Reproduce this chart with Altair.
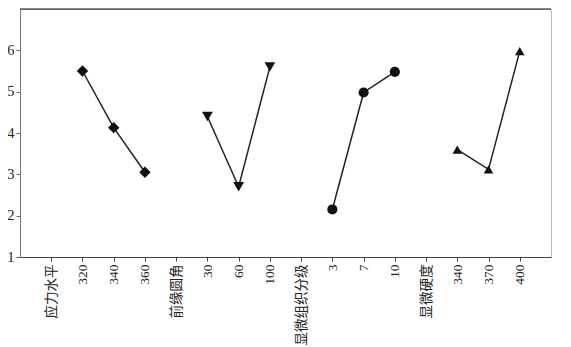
import altair as alt
import pandas as pd

categories = ["应力水平", "320", "340", "360", "前缘圆角", "30", "60", "100",
              "显微组织分级", "3", "7", "10", "显微硬度", "340", "370", "400"]
groups = ["应力水平", "前缘圆角", "显微组织分级", "显微硬度"]
group_positions = [[1, 2, 3], [5, 6, 7], [9, 10, 11], [13, 14, 15]]
stress_values = [5.5, 4.13, 3.05]
fillet_values = [4.4, 2.7, 5.6]
grade_values = [2.15, 4.98, 5.48]
hardness_values = [3.6, 3.12, 5.98]
shapes = ["diamond", "triangle-down", "circle", "triangle-up"]
marker_sizes = [130, 90, 70, 85]

keys = [f"k{i:02d}" for i in range(len(categories))]
rows = []
for g, pos, vals in zip(groups, group_positions,
                        [stress_values, fillet_values, grade_values, hardness_values]):
    for p, v in zip(pos, vals):
        rows.append({"key": keys[p], "value": v, "group": g})
df = pd.DataFrame(rows)

label_array = "[" + ",".join(f"'{c}'" for c in categories) + "]"
label_expr = f"{label_array}[toNumber(slice(datum.value, 1))]"

FONT = "Liberation Serif, Noto Sans CJK SC"
W, H = 531, 248

x_enc = alt.X("key:N", scale=alt.Scale(type="point", domain=keys, padding=1),
              axis=alt.Axis(title=None, labelAngle=270, labelExpr=label_expr,
                            labelFont=FONT, labelFontSize=13.5, labelColor="#222",
                            tickSize=4, tickColor="#444", domainColor="#444",
                            labelPadding=3, grid=False))
y_enc = alt.Y("value:Q", scale=alt.Scale(domain=[1, 7], nice=False, zero=False),
              axis=alt.Axis(title=None, values=[1, 2, 3, 4, 5, 6], labelFont=FONT,
                            labelFontSize=14.5, labelColor="#222", tickSize=4,
                            tickColor="#666", domainColor="#777", grid=False,
                            labelPadding=2))

base = alt.Chart(df)
lines = base.mark_line(color="#222", strokeWidth=1.5).encode(
    x=x_enc, y=y_enc, detail="group:N")
points = base.mark_point(filled=True, color="#111", opacity=1).encode(
    x=x_enc, y=y_enc,
    shape=alt.Shape("group:N", scale=alt.Scale(domain=groups, range=shapes), legend=None),
    size=alt.Size("group:N", scale=alt.Scale(domain=groups, range=marker_sizes), legend=None))
top_rule = alt.Chart(pd.DataFrame({"a": [0]})).mark_rule(color="#111", strokeWidth=1.2).encode(
    x=alt.value(0), x2=alt.value(W), y=alt.value(0))

chart = alt.layer(lines, points, top_rule).properties(
    width=W, height=H,
    autosize=alt.AutoSizeParams(type="none"),
    padding={"left": 12, "top": 1, "right": 12, "bottom": 90},
).configure_view(stroke="#bbb", strokeWidth=1)

chart.save("out.html", embed_options={"renderer": "svg", "actions": False})
